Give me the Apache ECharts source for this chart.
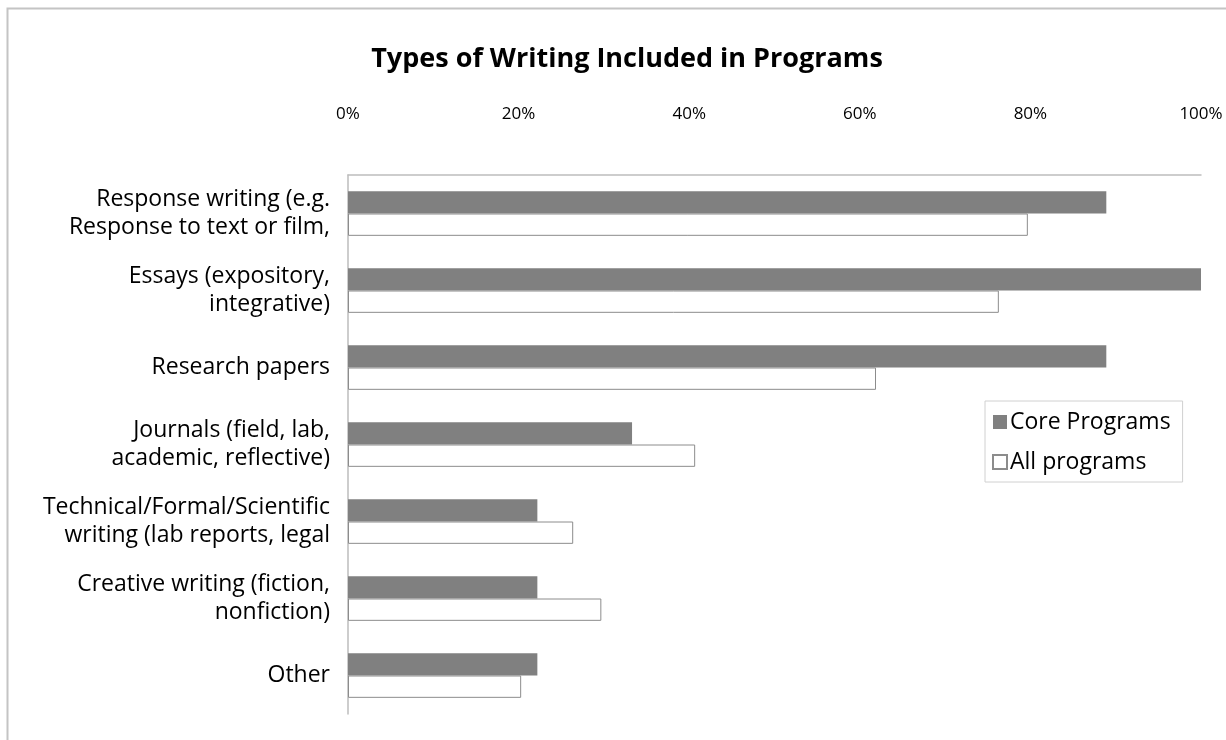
<!DOCTYPE html>
<html><head><meta charset="utf-8">
<script src="https://cdn.jsdelivr.net/npm/echarts@6/dist/echarts.min.js"></script>
<style>html,body{margin:0;padding:0;background:#fff}#c{width:1226px;height:740px}</style>
</head><body><div id="c"></div>
<script>
const categories = [
  'Response writing (e.g.\nResponse to text or film,',
  'Essays (expository,\nintegrative)',
  'Research papers',
  'Journals (field, lab,\nacademic, reflective)',
  'Technical/Formal/Scientific\nwriting (lab reports, legal',
  'Creative writing (fiction,\nnonfiction)',
  'Other'
];
const seriesNames = ['Core Programs', 'All programs'];
const coreValues = [88.9, 100, 88.9, 33.3, 22.2, 22.2, 22.2];
const allValues = [79.7, 76.3, 61.9, 40.7, 26.4, 29.7, 20.3];
const xTicks = [0, 20, 40, 60, 80, 100];

const FONT = '"Open Sans", "DejaVu Sans", sans-serif';
const chart = echarts.init(document.getElementById('c'));
chart.setOption({
  animation: false,
  backgroundColor: '#fff',
  graphic: [{
    type: 'rect', left: 5, top: 6,
    shape: { width: 1260, height: 780 },
    style: { fill: 'none', stroke: '#c4c4c4', lineWidth: 2 }
  }],
  title: {
    text: 'Types of Writing Included in Programs',
    left: 622, top: 41, textAlign: 'center',
    textStyle: { fontFamily: FONT, fontSize: 27, fontWeight: 'bold', color: '#000' }
  },
  legend: {
    orient: 'vertical', left: 985, top: 401,
    padding: [8, 12, 7, 7],
    itemGap: 14,
    itemWidth: 14, itemHeight: 14,
    icon: 'rect',
    borderColor: '#d0d0d0', borderWidth: 1,
    textStyle: { fontFamily: FONT, fontSize: 23, color: '#000', padding: [0, 0, 0, -2], lineHeight: 26 },
    data: seriesNames
  },
  grid: { left: 348, right: 25, top: 175, bottom: 26 },
  xAxis: {
    type: 'value', position: 'top', min: 0, max: 100, interval: 20,
    axisLine: { show: true, lineStyle: { color: '#bdbdbd', width: 1.5 } },
    axisTick: { show: false },
    splitLine: { show: false },
    axisLabel: {
      margin: 52, fontFamily: FONT, fontSize: 17, color: '#000',
      formatter: v => xTicks.includes(v) ? v + '%' : ''
    }
  },
  yAxis: {
    type: 'category', inverse: true, data: categories,
    axisLine: { show: true, lineStyle: { color: '#bdbdbd', width: 1.5 } },
    axisTick: { show: false },
    axisLabel: {
      margin: 18, fontFamily: FONT, fontSize: 23, color: '#000',
      lineHeight: 28, align: 'right'
    }
  },
  series: [
    {
      name: seriesNames[0], type: 'bar', data: coreValues,
      barGap: '0%', barCategoryGap: '42%',
      itemStyle: { color: '#808080' }
    },
    {
      name: seriesNames[1], type: 'bar', data: allValues,
      barGap: '0%', barCategoryGap: '42%',
      itemStyle: { color: '#ffffff', borderColor: '#8c8c8c', borderWidth: 1 }
    }
  ]
});
</script></body></html>
